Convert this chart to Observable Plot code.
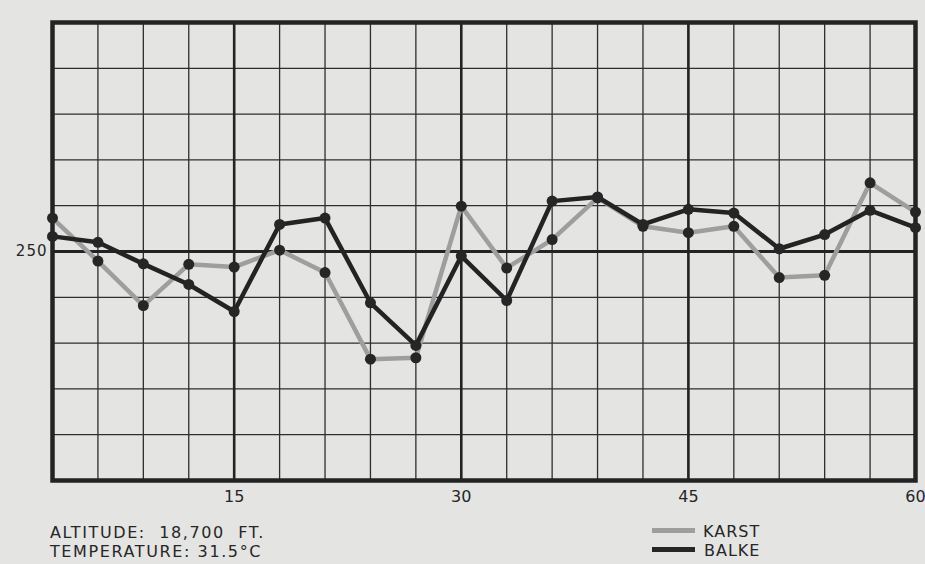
<!DOCTYPE html>
<html>
<head>
<meta charset="utf-8">
<script src="https://cdn.jsdelivr.net/npm/d3@7"></script>
<script src="https://cdn.jsdelivr.net/npm/@observablehq/plot@0.6"></script>
<style>
  html, body { margin: 0; padding: 0; background: #e4e4e3; }
  #wrap { position: relative; width: 925px; height: 564px; overflow: hidden; background: #e4e4e3; font-family: "DejaVu Sans", sans-serif; color: #262626; }
  #chart { position: absolute; left: 0; top: 0; }
  #chart svg g[aria-label="y-axis tick label"] text { letter-spacing: 1px; }
  .foot { position: absolute; font-size: 16px; line-height: 16px; letter-spacing: 1.6px; white-space: pre; }
  .sw { position: absolute; height: 5px; width: 43px; }
</style>
</head>
<body>
<div id="wrap">
  <div id="chart"></div>
  <div class="foot" style="left:50px; top:525px;">ALTITUDE:  18,700  FT.</div>
  <div class="foot" style="left:50px; top:544px;">TEMPERATURE: 31.5°C</div>
  <div class="sw" style="left:652px; top:528px; background:#9e9e9e;"></div>
  <div class="sw" style="left:652px; top:547px; background:#262626;"></div>
  <div class="foot" style="left:703px; top:524px; letter-spacing:1px;">KARST</div>
  <div class="foot" style="left:704px; top:543px; letter-spacing:1px;">BALKE</div>
</div>
<script>
// Data
const xs = [3, 6, 9, 12, 15, 18, 21, 24, 27, 30, 33, 36, 39, 42, 45, 48, 51, 54, 57, 60];
const karst = [257.3, 247.9, 238.2, 247.2, 246.6, 250.3, 245.4, 226.5, 226.8, 259.9, 246.4, 252.6, 261.7, 255.5, 254.1, 255.5, 244.3, 244.8, 265.0, 258.6];
const balke = [253.3, 252.0, 247.3, 242.8, 236.9, 255.9, 257.3, 238.8, 229.5, 249.0, 239.3, 261.0, 261.9, 255.9, 259.2, 258.4, 250.6, 253.7, 259.0, 255.2];
const xTickLabels = [15, 30, 45, 60];
const yTickLabels = [250];
const xGrid = [3, 6, 9, 12, 15, 18, 21, 24, 27, 30, 33, 36, 39, 42, 45, 48, 51, 54, 57, 60];
const xHeavy = [15, 30, 45];
const yGrid = [200, 210, 220, 230, 240, 250, 260, 270, 280, 290, 300];
const yHeavy = [250];

const karstRows = xs.map((x, i) => ({x, y: karst[i], series: "KARST"}));
const balkeRows = xs.map((x, i) => ({x, y: balke[i], series: "BALKE"}));

const chart = Plot.plot({
  width: 925,
  height: 512,
  marginTop: 22,
  marginBottom: 32,
  marginLeft: 52,
  marginRight: 10,
  style: {background: "transparent", fontFamily: "DejaVu Sans, sans-serif", fontSize: "15px", color: "#262626", overflow: "visible"},
  x: {domain: [3, 60], label: null},
  y: {domain: [200, 300], label: null},
  marks: [
    Plot.ruleX(xGrid, {stroke: "#2e2e2e", strokeWidth: 1.3}),
    Plot.ruleY(yGrid, {stroke: "#2e2e2e", strokeWidth: 1.3}),
    Plot.ruleX(xHeavy, {stroke: "#232323", strokeWidth: 2.6}),
    Plot.ruleY(yHeavy, {stroke: "#232323", strokeWidth: 2.8}),
    Plot.frame({stroke: "#232323", strokeWidth: 4.5}),
    Plot.line(karstRows, {x: "x", y: "y", stroke: "#9e9e9e", strokeWidth: 4.5}),
    Plot.line(balkeRows, {x: "x", y: "y", stroke: "#232323", strokeWidth: 4.5}),
    Plot.dot(karstRows.concat(balkeRows), {x: "x", y: "y", r: 5.5, fill: "#262626"}),
    Plot.axisX(xTickLabels, {tickSize: 0, tickPadding: 10, label: null, fontSize: 16, fontFamily: "DejaVu Sans"}),
    Plot.axisY(yTickLabels, {tickSize: 0, tickPadding: 5, label: null, fontSize: 15, fontFamily: "DejaVu Sans"})
  ]
});
document.getElementById("chart").appendChild(chart);
</script>
</body>
</html>
